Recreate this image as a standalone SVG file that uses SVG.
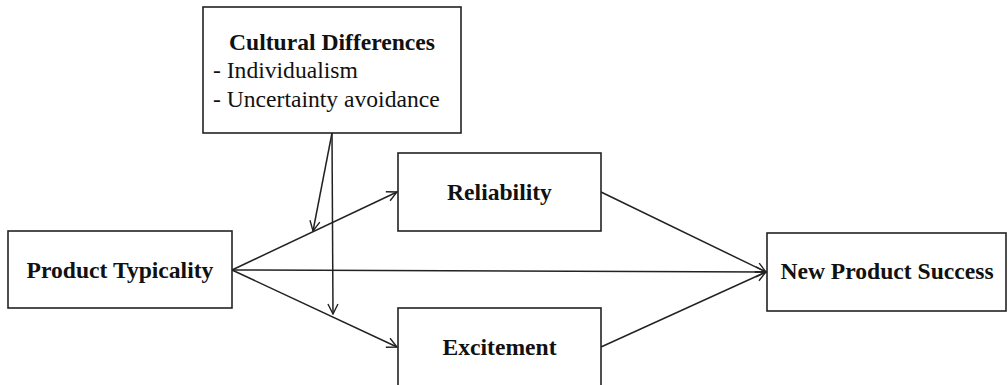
<svg xmlns="http://www.w3.org/2000/svg" width="1008" height="385" viewBox="0 0 1008 385">
<style>
.box{fill:#fff;stroke:#222;stroke-width:1.6}
.t{font-family:"Liberation Serif","Times New Roman",serif;font-size:23.6px;fill:#111}
.b{font-weight:bold;text-anchor:middle}
.c{fill:none;stroke:#222;stroke-width:1.5}
</style>
<defs>
<marker id="ah" viewBox="0 0 12 12" refX="11" refY="6" markerWidth="12" markerHeight="12" markerUnits="userSpaceOnUse" orient="auto">
<path d="M1,1 L11,6 L1,11" fill="none" stroke="#222" stroke-width="1.4"/>
</marker>
</defs>
<rect width="1008" height="385" fill="#fff"/>
<g id="connectors">
<line class="c" x1="232" y1="270" x2="397" y2="192" marker-end="url(#ah)"/>
<line class="c" x1="232" y1="270" x2="397" y2="347" marker-end="url(#ah)"/>
<line class="c" x1="232" y1="270" x2="766" y2="272" marker-end="url(#ah)"/>
<line class="c" x1="601" y1="192" x2="766" y2="272" marker-end="url(#ah)"/>
<line class="c" x1="601" y1="347" x2="766" y2="272" marker-end="url(#ah)"/>
<line class="c" x1="332" y1="133" x2="313" y2="231" marker-end="url(#ah)"/>
<line class="c" x1="332" y1="133" x2="333" y2="314" marker-end="url(#ah)"/>
</g>
<g id="cultural">
<rect class="box" x="203" y="7" width="258" height="126"/>
<text class="t b" x="332" y="50">Cultural Differences</text>
<text class="t" x="213" y="78">- Individualism</text>
<text class="t" x="213" y="107">- Uncertainty avoidance</text>
</g>
<g id="typicality">
<rect class="box" x="8" y="231" width="224" height="77"/>
<text class="t b" x="120" y="278">Product Typicality</text>
</g>
<g id="reliability">
<rect class="box" x="398" y="153" width="203" height="78"/>
<text class="t b" x="499.5" y="200">Reliability</text>
</g>
<g id="excitement">
<rect class="box" x="398" y="308" width="203" height="90"/>
<text class="t b" x="499.5" y="355">Excitement</text>
</g>
<g id="success">
<rect class="box" x="767" y="233" width="239" height="78"/>
<text class="t b" x="887" y="279">New Product Success</text>
</g>
</svg>
